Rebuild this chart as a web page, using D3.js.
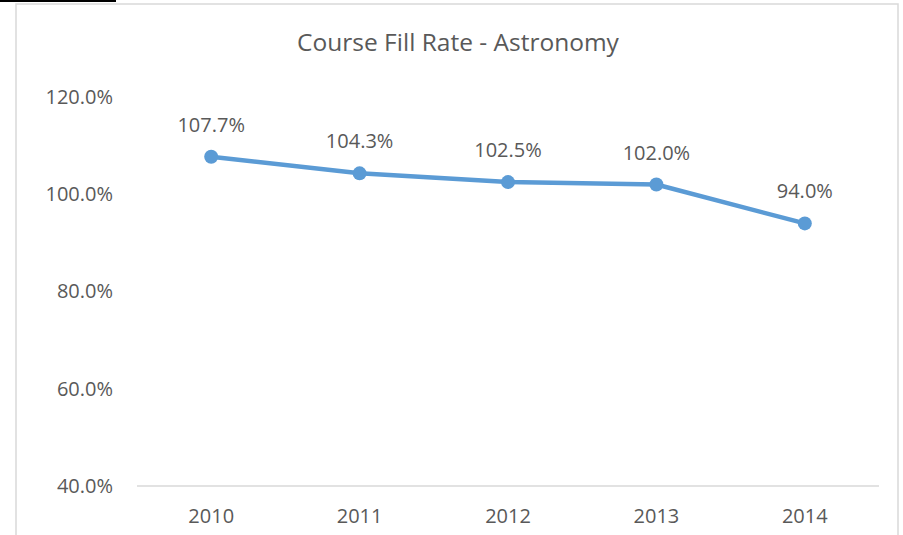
<!DOCTYPE html>
<html>
<head>
<meta charset="UTF-8">
<style>
  body { margin: 0; background: #fff; }
  svg { display: block; font-family: "Open Sans", sans-serif; }
  .lbl { fill: #595959; }
</style>
<script src="https://d3js.org/d3.v7.min.js"></script>
</head>
<body>
<svg id="chart" width="903" height="535"></svg>
<script>
  // data
  var years = ["2010", "2011", "2012", "2013", "2014"];
  var fillRate = [107.7, 104.3, 102.5, 102.0, 94.0];
  var yTicks = [40, 60, 80, 100, 120];
  var title = "Course Fill Rate - Astronomy";

  var svg = d3.select("#chart");

  // stray black line at very top
  svg.append("rect").attr("x", 0).attr("y", 0).attr("width", 116).attr("height", 2).attr("fill", "#000");

  // chart frame
  svg.append("rect")
    .attr("x", 16).attr("y", 4)
    .attr("width", 882).attr("height", 560)
    .attr("fill", "#fff")
    .attr("stroke", "#d9d9d9").attr("stroke-width", 1.5);

  var pLeft = 137, pRight = 879, pTop = 97, pBottom = 486;

  var x = d3.scaleBand().domain(years).range([pLeft, pRight]);
  var y = d3.scaleLinear().domain([40, 120]).range([pBottom, pTop]);

  svg.append("text")
    .attr("class", "lbl")
    .attr("x", 458).attr("y", 51)
    .attr("text-anchor", "middle")
    .attr("font-size", "24.5px")
    .text(title);

  // baseline
  svg.append("line")
    .attr("x1", pLeft).attr("x2", pRight)
    .attr("y1", y(40)).attr("y2", y(40))
    .attr("stroke", "#d9d9d9").attr("stroke-width", 1.5);

  // y axis labels
  var yAxis = svg.append("g").attr("transform", "translate(113,0)")
    .call(d3.axisLeft(y).tickValues(yTicks).tickSize(0).tickPadding(0)
      .tickFormat(function(d) { return d3.format(".1f")(d) + "%"; }));
  yAxis.select(".domain").remove();
  yAxis.selectAll("text").attr("class", "lbl").attr("fill", null)
    .attr("font-size", "20px").attr("font-family", "Open Sans, sans-serif");

  // x axis labels
  var xAxis = svg.append("g").attr("transform", "translate(0," + pBottom + ")")
    .call(d3.axisBottom(x).tickSize(0).tickPadding(0));
  xAxis.select(".domain").remove();
  xAxis.selectAll("text").attr("class", "lbl").attr("fill", null)
    .attr("dy", null).attr("y", 37)
    .attr("font-size", "20px").attr("font-family", "Open Sans, sans-serif");

  var pts = years.map(function(d, i) { return { year: d, v: fillRate[i] }; });
  var cx = function(d) { return x(d.year) + x.bandwidth() / 2; };

  svg.append("path")
    .datum(pts)
    .attr("fill", "none")
    .attr("stroke", "#5b9bd5")
    .attr("stroke-width", 4.5)
    .attr("stroke-linejoin", "round")
    .attr("d", d3.line().x(cx).y(function(d) { return y(d.v); }));

  svg.selectAll(".dot")
    .data(pts).enter().append("circle")
    .attr("class", "dot")
    .attr("cx", cx).attr("cy", function(d) { return y(d.v); })
    .attr("r", 7)
    .attr("fill", "#5b9bd5");

  svg.selectAll(".val")
    .data(pts).enter().append("text")
    .attr("class", "lbl val")
    .attr("x", cx).attr("y", function(d) { return y(d.v) - 25; })
    .attr("text-anchor", "middle")
    .attr("font-size", "20px")
    .text(function(d) { return d3.format(".1f")(d.v) + "%"; });
</script>
</body>
</html>
